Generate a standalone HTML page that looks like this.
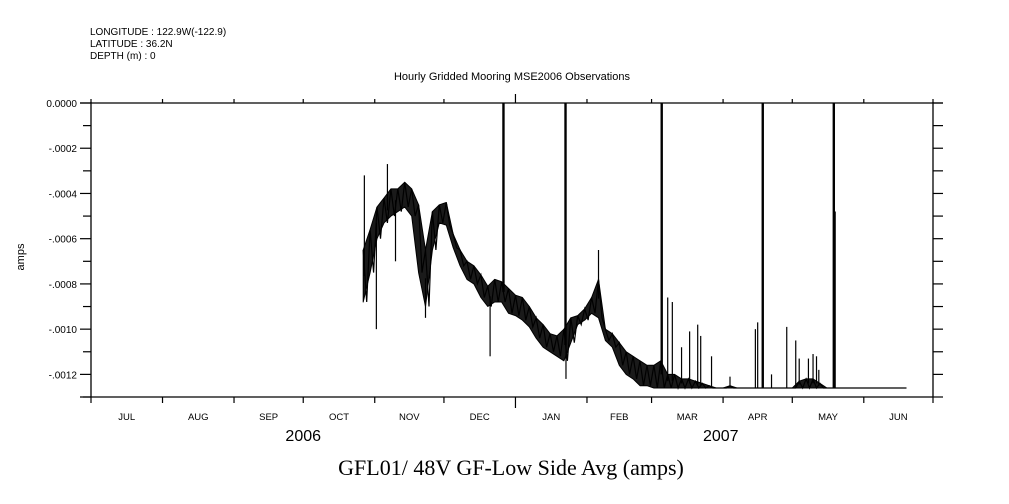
<!DOCTYPE html>
<html><head><meta charset="utf-8"><style>
body{margin:0;background:#fff}
svg{display:block}
text{font-family:"Liberation Sans",sans-serif;fill:#000}
</style></head><body>
<svg id="chart" width="1009" height="504" viewBox="0 0 1009 504" xmlns="http://www.w3.org/2000/svg">
<g font-size="10">
<text x="90" y="35">LONGITUDE : 122.9W(-122.9)</text>
<text x="90" y="47">LATITUDE : 36.2N</text>
<text x="90" y="59">DEPTH (m) : 0</text>
</g>
<text x="512" y="80" font-size="11" text-anchor="middle">Hourly Gridded Mooring MSE2006 Observations</text>
<text transform="translate(24,257) rotate(-90)" font-size="11" text-anchor="middle">amps</text>
<text x="511" y="475" font-size="22" text-anchor="middle" style="font-family:'Liberation Serif',serif">GFL01/ 48V GF-Low Side Avg (amps)</text>
<g id="axes"></g>
<g id="series"></g>
</svg>
<script>
const yTicks=[0,-2,-4,-6,-8,-10,-12];
const yTickLabels=["0.0000","-.0002","-.0004","-.0006","-.0008","-.0010","-.0012"];
const months=["JUL","AUG","SEP","OCT","NOV","DEC","JAN","FEB","MAR","APR","MAY","JUN"];
const monthStartDays=[0,31,62,92,123,153,184,215,243,274,304,335,365];
const years=["2006","2007"];
const yearCenterDays=[92,273];
// samples every 3 days (day offset from 2006-07-01), values in 1e-4 amps
const sampleDays=[118,121,124,127,130,133,136,139,142,145,148,151,154,157,160,163,166,169,172,175,178,181,184,187,190,193,196,199,202,205,208,211,214,217,220,223,226,229,232,235,238,241,244,247,250,253,256,259,262,265,268,271,274,277,280,283,286,289,292,295,298,301,304,307,310,313,316,319,322,325,328,331,334,337,340,343,346,349,352];
const hiVals=[-6.5,-5.6,-4.6,-4.2,-3.8,-3.8,-3.5,-3.8,-4.5,-6.5,-4.8,-4.5,-4.4,-5.8,-6.5,-7.0,-7.2,-7.6,-8.1,-7.8,-7.9,-8.2,-8.5,-8.6,-9.0,-9.5,-9.8,-10.2,-10.3,-10.0,-9.5,-9.4,-9.1,-8.6,-7.8,-10.0,-10.2,-10.6,-11.0,-11.2,-11.4,-11.6,-11.6,-11.4,-12.0,-12.0,-12.2,-12.2,-12.3,-12.4,-12.5,-12.6,-12.6,-12.5,-12.6,-12.6,-12.6,-12.6,-12.6,-12.6,-12.6,-12.6,-12.6,-12.3,-12.2,-12.2,-12.4,-12.6,-12.6,-12.6,-12.6,-12.6,-12.6,-12.6,-12.6,-12.6,-12.6,-12.6,-12.6];
const loVals=[-8.8,-7.5,-6.0,-5.3,-5.0,-4.8,-4.6,-5.0,-7.5,-9.0,-6.5,-5.3,-5.4,-6.4,-7.2,-7.8,-8.0,-8.6,-9.0,-8.8,-8.8,-9.3,-9.4,-9.6,-9.9,-10.4,-10.8,-11.0,-11.2,-11.4,-10.6,-9.8,-9.6,-9.3,-9.5,-10.5,-10.8,-11.6,-12.0,-12.2,-12.5,-12.5,-12.6,-12.6,-12.6,-12.6,-12.6,-12.6,-12.6,-12.6,-12.6,-12.6,-12.6,-12.6,-12.6,-12.6,-12.6,-12.6,-12.6,-12.6,-12.6,-12.6,-12.6,-12.6,-12.6,-12.6,-12.6,-12.6,-12.6,-12.6,-12.6,-12.6,-12.6,-12.6,-12.6,-12.6,-12.6,-12.6,-12.6];
const spikeDays=[118.5,128.5,123.7,132,145,173,205.9,220,250,252,256,259.5,263,264.3,269,277,288,289,295,301.6,305.5,307,311,313,314.5,315.5,322.6];
const spikeVals=[-3.2,-2.7,-10.0,-7.0,-9.5,-11.2,-12.2,-6.5,-8.6,-8.8,-10.8,-10.1,-9.8,-10.3,-11.2,-12.1,-10.0,-9.7,-12.0,-9.9,-10.5,-11.3,-11.3,-11.1,-11.2,-11.8,-4.8];
const fullSpikeDays=[178.8,205.7,247.4,291.2,322.0];

const X0=91,X1=933,Y0=103,Y1=397,DAYS=365;
const xs=d=>X0+(X1-X0)*d/DAYS;
const ys=v=>Y0+(Y1-Y0)*(v/-13);
const NS="http://www.w3.org/2000/svg";
function mk(tag,attrs,parent){const e=document.createElementNS(NS,tag);for(const k in attrs)e.setAttribute(k,attrs[k]);parent.appendChild(e);return e;}
const ax=document.getElementById('axes');
const sr=document.getElementById('series');
let e;
e=mk('path',{d:`M${X0},${Y0-1}V${Y1} M${X1},${Y0-1}V${Y1} M80,${Y0}H943 M80,${Y1}H${X1}`,stroke:'#000','stroke-width':1.3,fill:'none'},ax);


for(let v=0;v>=-13;v--){
  const y=ys(v),major=(v%2===0);
  e=mk('line',{x1:major?80:83,x2:X0,y1:y,y2:y,stroke:'#000','stroke-width':1.2},ax);
  
  
  e=mk('line',{x1:X1,x2:943,y1:y,y2:y,stroke:'#000','stroke-width':1.2},ax);
  
  
}
yTicks.forEach((v,i)=>{
  e=mk('text',{x:77,y:ys(v)+4,'font-size':10,'text-anchor':'end'},ax);
  e.textContent=yTickLabels[i];
  
  
});
monthStartDays.forEach((d,i)=>{
  const x=xs(d),yr=(d===184);
  e=mk('line',{x1:x,x2:x,y1:Y1,y2:Y1+(yr?11:6),stroke:'#000','stroke-width':1.2},ax);
  
  
  e=mk('line',{x1:x,x2:x,y1:Y0-(yr?9:4),y2:Y0,stroke:'#000','stroke-width':1.2},ax);
  
  
  if(i<months.length){
    e=mk('text',{x:xs((d+monthStartDays[i+1])/2),y:420,'font-size':9.5,'text-anchor':'middle'},ax);
    e.textContent=months[i];
    
    
  }
});
years.forEach((t,i)=>{
  e=mk('text',{x:xs(yearCenterDays[i]),y:441,'font-size':16,'text-anchor':'middle'},ax);
  e.textContent=t;
  
  
});
let bandTop=[],bandBot=[];
sampleDays.forEach((d,i)=>{
  bandTop.push(`${xs(d).toFixed(1)},${ys(hiVals[i]).toFixed(1)}`);
  bandBot.unshift(`${xs(d).toFixed(1)},${ys(loVals[i]).toFixed(1)}`);
});
e=mk('polygon',{points:bandTop.concat(bandBot).join(' '),fill:'#1a1a1a',stroke:'#000','stroke-width':1,'stroke-linejoin':'round'},sr);


let pts=[];
sampleDays.forEach((d,i)=>{pts.push(`${xs(d).toFixed(1)},${ys(hiVals[i]).toFixed(1)}`);pts.push(`${xs(d+1.5).toFixed(1)},${ys(loVals[i]).toFixed(1)}`);});
e=mk('polyline',{points:pts.join(' '),fill:'none',stroke:'#000','stroke-width':1.2},sr);


function baseAt(d){let best=0;sampleDays.forEach((s,i)=>{if(Math.abs(s-d)<Math.abs(sampleDays[best]-d))best=i;});return (hiVals[best]+loVals[best])/2;}
spikeDays.forEach((d,i)=>{
  e=mk('line',{x1:xs(d),x2:xs(d),y1:ys(baseAt(d)),y2:ys(spikeVals[i]),stroke:'#000','stroke-width':1.2},sr);
  
  
});
fullSpikeDays.forEach(d=>{
  e=mk('line',{x1:xs(d),x2:xs(d),y1:ys(baseAt(d)),y2:Y0,stroke:'#000','stroke-width':2.4},sr);
  
  
});
</script>
</body></html>
